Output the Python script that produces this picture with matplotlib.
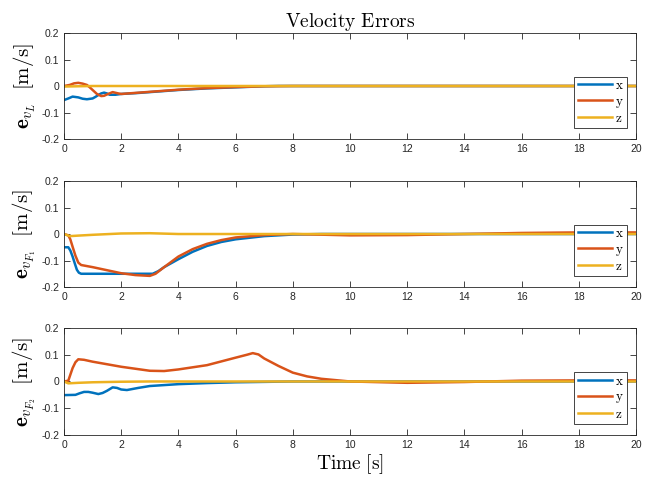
import numpy as np
import matplotlib
matplotlib.use('Agg')
import matplotlib.pyplot as plt

plt.rcParams['mathtext.fontset'] = 'cm'
plt.rcParams['font.family'] = ['Liberation Sans', 'DejaVu Sans']

# colours (MATLAB default order)
c_x = '#0072BD'
c_y = '#D95319'
c_z = '#EDB120'

# ---- panel 1 : e_vL ----
t1x = [0, 0.15, 0.3, 0.5, 0.65, 0.8, 1.0, 1.1, 1.2, 1.3, 1.4, 1.5, 1.6, 1.8, 2,
       2.5, 3, 3.5, 4, 5, 6, 7, 7.5, 20]
v1x = [-0.053, -0.047, -0.04, -0.043, -0.048, -0.05, -0.047, -0.041, -0.034, -0.028,
       -0.025, -0.028, -0.033, -0.033, -0.03, -0.027, -0.023, -0.019, -0.015, -0.009,
       -0.005, -0.001, 0, 0]
t1y = [0, 0.2, 0.35, 0.5, 0.65, 0.8, 0.9, 1.0, 1.15, 1.3, 1.4, 1.5, 1.7, 1.9, 2,
       2.5, 3, 3.5, 4, 5, 6, 7, 8, 20]
v1y = [0, 0.004, 0.01, 0.012, 0.009, 0.004, -0.005, -0.015, -0.03, -0.038, -0.037,
       -0.032, -0.023, -0.028, -0.03, -0.026, -0.022, -0.018, -0.014, -0.008, -0.004,
       -0.001, 0, 0]
t1z = [0, 0.5, 1, 2, 20]
v1z = [-0.002, -0.001, 0, 0, 0]

# ---- panel 2 : e_vF1 ----
t2x = [0, 0.15, 0.22, 0.3, 0.38, 0.45, 0.52, 0.6, 1, 2, 3.1, 3.3, 3.5, 3.75, 4,
       4.5, 5, 5.5, 6, 7, 8, 9, 20]
v2x = [-0.05, -0.05, -0.062, -0.085, -0.112, -0.135, -0.146, -0.15, -0.15, -0.15,
       -0.15, -0.14, -0.125, -0.11, -0.095, -0.067, -0.045, -0.03, -0.02, -0.008,
       -0.002, 0, 0]
t2y = [0, 0.15, 0.22, 0.3, 0.4, 0.5, 0.6, 1, 2, 2.5, 3, 3.2, 3.5, 3.75, 4, 4.5,
       5, 5.5, 6, 7, 8, 10, 12, 14, 16, 18, 20]
v2y = [0, -0.005, -0.02, -0.048, -0.082, -0.108, -0.117, -0.125, -0.148, -0.155,
       -0.158, -0.15, -0.125, -0.105, -0.085, -0.057, -0.037, -0.023, -0.013, -0.004,
       0, -0.005, -0.004, 0, 0.004, 0.006, 0.006]
t2z = [0, 0.2, 0.5, 1, 2, 3, 4, 20]
v2z = [0, -0.008, -0.006, -0.003, 0.002, 0.003, 0, 0]

# ---- panel 3 : e_vF2 ----
t3x = [0, 0.4, 0.55, 0.7, 0.85, 1.0, 1.2, 1.35, 1.5, 1.7, 1.85, 2, 2.2, 2.6, 3,
       4, 5, 6, 8, 20]
v3x = [-0.051, -0.05, -0.044, -0.039, -0.039, -0.042, -0.047, -0.043, -0.035,
       -0.022, -0.024, -0.03, -0.032, -0.024, -0.017, -0.01, -0.006, -0.003, 0, 0]
t3y = [0, 0.15, 0.22, 0.3, 0.4, 0.5, 0.7, 1, 2, 3, 3.5, 4, 5, 6, 6.4, 6.6, 6.8,
       7, 7.5, 8, 8.5, 9, 10, 12, 14, 16, 18, 20]
v3y = [0, 0.003, 0.025, 0.05, 0.072, 0.083, 0.081, 0.074, 0.055, 0.04, 0.039, 0.045,
       0.061, 0.089, 0.1, 0.106, 0.101, 0.086, 0.058, 0.033, 0.019, 0.01, 0, -0.005,
       -0.002, 0.003, 0.004, 0.004]
t3z = [0, 0.15, 0.5, 1, 2, 3, 20]
v3z = [0, -0.007, -0.005, -0.003, -0.001, 0, 0]

panels = [
    (t1x, v1x, t1y, v1y, t1z, v1z, r'$\mathbf{e}_{v_L}\ \ [\mathrm{m/s}]$'),
    (t2x, v2x, t2y, v2y, t2z, v2z, r'$\mathbf{e}_{v_{F_1}}\ \ [\mathrm{m/s}]$'),
    (t3x, v3x, t3y, v3y, t3z, v3z, r'$\mathbf{e}_{v_{F_2}}\ \ [\mathrm{m/s}]$'),
]

fig = plt.figure(figsize=(6.62, 4.79), dpi=100)
boxes = [[0.0967, 0.7098, 0.864, 0.2213],
         [0.0967, 0.4008, 0.864, 0.2213],
         [0.0967, 0.0919, 0.864, 0.2234]]

axc = '#262626'
for i, (box, (tx, vx, ty, vy, tz, vz, lab)) in enumerate(zip(boxes, panels)):
    ax = fig.add_axes(box)
    ax.plot(tx, vx, color=c_x, lw=1.8, label=r'$\mathrm{x}$')
    ax.plot(ty, vy, color=c_y, lw=1.8, label=r'$\mathrm{y}$')
    ax.plot(tz, vz, color=c_z, lw=1.8, label=r'$\mathrm{z}$')
    ax.set_xlim(0, 20)
    ax.set_ylim(-0.2, 0.2)
    ax.set_xticks(np.arange(0, 21, 2))
    ax.set_yticks([-0.2, -0.1, 0, 0.1, 0.2])
    ax.set_yticklabels(['-0.2', '-0.1', '0', '0.1', '0.2'])
    ax.tick_params(direction='in', top=True, right=True, labelsize=7.5,
                   colors=axc, length=4, width=0.6)
    for s in ax.spines.values():
        s.set_color(axc)
        s.set_linewidth(0.6)
    ax.set_ylabel(lab, fontsize=15, labelpad=2)
    leg = ax.legend(loc='lower right', bbox_to_anchor=(0.985, 0.1),
                    fontsize=9.5, handlelength=2.6, handletextpad=0.25,
                    labelspacing=0.25, borderpad=0.25, borderaxespad=0,
                    fancybox=False, framealpha=1)
    leg.get_frame().set_edgecolor(axc)
    leg.get_frame().set_linewidth(0.6)
    if i == 0:
        ax.set_title(r'$\mathrm{Velocity\ Errors}$', fontsize=14, pad=4)
    if i == 2:
        ax.set_xlabel(r'$\mathrm{Time\ [s]}$', fontsize=14, labelpad=2)

fig.savefig('out.png', dpi=100)
